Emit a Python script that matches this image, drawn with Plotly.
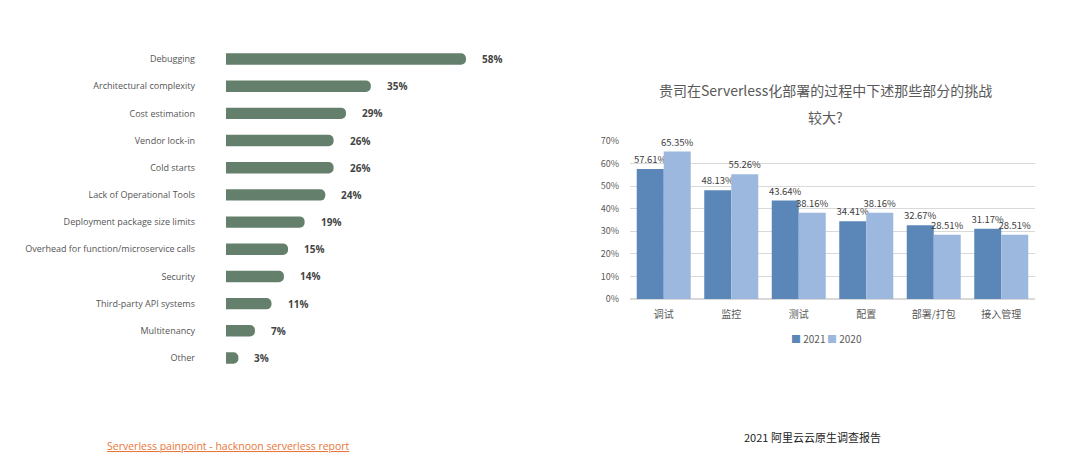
import plotly.graph_objects as go

# Left chart data
pain_labels = ["Debugging", "Architectural complexity", "Cost estimation", "Vendor lock-in",
               "Cold starts", "Lack of Operational Tools", "Deployment package size limits",
               "Overhead for function/microservice calls", "Security", "Third-party API systems",
               "Multitenancy", "Other"]
pain_values = [58, 35, 29, 26, 26, 24, 19, 15, 14, 11, 7, 3]

# Right chart data
cn_categories = ["调试", "监控", "测试", "配置", "部署/打包", "接入管理"]
series_names = ["2021", "2020"]
series_colors = ["#5B87B8", "#9CB8DF"]
values_2021 = [57.61, 48.13, 43.64, 34.41, 32.67, 31.17]
values_2020 = [65.35, 55.26, 38.16, 38.16, 28.51, 28.51]
y_ticks = [0, 10, 20, 30, 40, 50, 60, 70]

W, H = 1080, 471
def fx(px): return px / W
def fy(py): return 1 - py / H

LAT = "Open Sans, Noto Sans, sans-serif"
CJK = "Noto Sans CJK SC, sans-serif"

fig = go.Figure()

# Left: horizontal rounded bars
fig.add_trace(go.Bar(
    x=pain_values, y=pain_labels, orientation="h",
    marker=dict(color="#64806C", cornerradius="50%", line=dict(width=0)),
    width=0.42, xaxis="x", yaxis="y", showlegend=False, hoverinfo="skip",
))
left_scale = 240 / 58.0  # px per percent
left_x0, left_x1 = 226, 540
fig.update_layout(
    xaxis=dict(domain=[fx(left_x0), fx(left_x1)], range=[0, (left_x1 - left_x0) / left_scale],
               visible=False, fixedrange=True, automargin=False),
    yaxis=dict(domain=[fy(371.6), fy(45.4)], categoryorder="array", categoryarray=pain_labels,
               autorange=False, range=[11.5, -0.5], showgrid=False, zeroline=False,
               showline=False, ticks="", ticklabelstandoff=30, automargin=False,
               tickfont=dict(family=LAT, size=9, color="#555555")),
)
annotations = []
for lab, v in zip(pain_labels, pain_values):
    annotations.append(dict(x=v, y=lab, xref="x", yref="y", text=f"<b>{v}%</b>",
                            showarrow=False, xanchor="left", xshift=14,
                            font=dict(family=LAT, size=10, color="#444444")))

# Right: grouped columns
for name, vals, col, off in [(series_names[0], values_2021, series_colors[0], -0.4),
                             (series_names[1], values_2020, series_colors[1], 0.0)]:
    fig.add_trace(go.Bar(
        x=cn_categories, y=vals, name=name, marker=dict(color=col, line=dict(width=0)),
        offset=off, width=0.4, xaxis="x2", yaxis="y2", showlegend=False,
        text=[f"{v:.2f}%" for v in vals], textposition="outside", constraintext="none",
        cliponaxis=False, textfont=dict(family=CJK, size=9.5, color="#404040"), hoverinfo="skip",
    ))
fig.update_layout(
    barmode="overlay",
    xaxis2=dict(domain=[fx(630), fx(1035)], anchor="y2", showgrid=False, zeroline=False,
                showline=False, ticks="", tickfont=dict(family=CJK, size=10, color="#595959"),
                ticklabelstandoff=8, automargin=False),
    yaxis2=dict(domain=[fy(299), fy(141)], anchor="x2", range=[0, 70], tickvals=y_ticks,
                ticktext=[f"{t}%" for t in y_ticks], showgrid=True, gridcolor="#D9D9D9",
                gridwidth=1, zeroline=True, zerolinecolor="#D9D9D9", showline=False, ticks="",
                tickfont=dict(family=CJK, size=9, color="#595959"), ticklabelstandoff=10,
                automargin=False),
)

# Compact legend (square + label) like the reference
legend_x = [789, 825]
for name, col, lx in zip(series_names, series_colors, legend_x):
    annotations.append(dict(x=fx(lx), y=fy(338), xref="paper", yref="paper",
                            text=f"<span style='color:{col}'>■</span> {name}", showarrow=False,
                            xanchor="left", yanchor="middle",
                            font=dict(family=CJK, size=10, color="#595959")))

# Right title
annotations.append(dict(x=fx(825), y=fy(90), xref="paper", yref="paper",
                        text="贵司在Serverless化部署的过程中下述那些部分的挑战", showarrow=False,
                        xanchor="center", yanchor="middle",
                        font=dict(family=CJK, size=14, color="#595959")))
annotations.append(dict(x=fx(825), y=fy(117), xref="paper", yref="paper",
                        text="较大?", showarrow=False, xanchor="center", yanchor="middle",
                        font=dict(family=CJK, size=14, color="#595959")))
# Footnotes
annotations.append(dict(x=fx(105), y=fy(446), xref="paper", yref="paper",
                        text="<u>Serverless painpoint - hacknoon serverless report</u>",
                        showarrow=False, xanchor="left", yanchor="middle",
                        font=dict(family=LAT, size=10.5, color="#E8763A")))
annotations.append(dict(x=fx(812), y=fy(437), xref="paper", yref="paper",
                        text="2021 阿里云云原生调查报告", showarrow=False,
                        xanchor="center", yanchor="middle",
                        font=dict(family=CJK, size=11, color="#222222")))

fig.update_layout(
    width=W, height=H, margin=dict(l=0, r=0, t=0, b=0, autoexpand=False),
    paper_bgcolor="white", plot_bgcolor="white",
    annotations=annotations, showlegend=False,
)

fig.write_html("out.html")
